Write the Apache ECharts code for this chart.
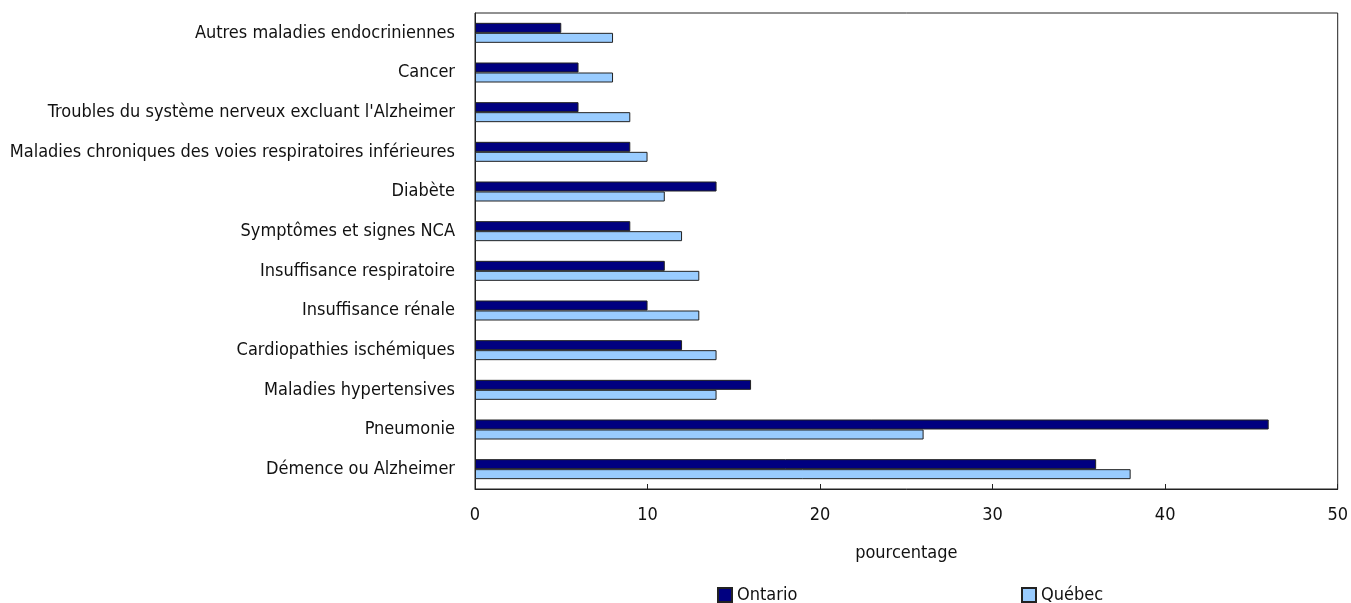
<!DOCTYPE html>
<html><head><meta charset="utf-8">
<script src="https://cdn.jsdelivr.net/npm/echarts@6/dist/echarts.min.js"></script>
<style>html,body{margin:0;padding:0;background:#fff}#c{width:1351px;height:603px}</style>
</head><body><div id="c"></div>
<script>
const categories = ["Démence ou Alzheimer","Pneumonie","Maladies hypertensives","Cardiopathies ischémiques","Insuffisance rénale","Insuffisance respiratoire","Symptômes et signes NCA","Diabète","Maladies chroniques des voies respiratoires inférieures","Troubles du système nerveux excluant l'Alzheimer","Cancer","Autres maladies endocriniennes"];
const ontario = [36,46,16,12,10,11,9,14,9,6,6,5];
const quebec = [38,26,14,14,13,13,12,11,10,9,8,8];
const xTicks = [0,10,20,30,40,50];
const FONT = "'Liberation Sans Narrow','DejaVu Sans Condensed','Arial Narrow',sans-serif";
const TXT = '#111';
const chart = echarts.init(document.getElementById('c'));
chart.setOption({
  animation:false,
  textStyle:{fontFamily:FONT},
  grid:{left:475,right:13,top:13,bottom:114,show:true,borderColor:'#222',borderWidth:1,containLabel:false},
  legend:[
    {data:['Ontario'],left:712,top:581,itemWidth:14,itemHeight:14,itemGap:4,textStyle:{fontFamily:FONT,fontSize:18,color:TXT},icon:'rect'},
    {data:['Québec'],left:1016,top:581,itemWidth:14,itemHeight:14,itemGap:4,textStyle:{fontFamily:FONT,fontSize:18,color:TXT},icon:'rect'}
  ],
  xAxis:{type:'value',min:xTicks[0],max:xTicks[xTicks.length-1],interval:10,
    name:'pourcentage',nameLocation:'middle',nameGap:55,nameTextStyle:{fontFamily:FONT,fontSize:18,color:TXT},
    axisLine:{show:true,lineStyle:{color:'#222'}},
    axisTick:{show:true,inside:true,length:5,lineStyle:{color:'#222'}},
    axisLabel:{fontFamily:FONT,fontSize:18,color:TXT,margin:17},
    splitLine:{show:false}},
  yAxis:{type:'category',data:categories,
    axisLine:{show:true,lineStyle:{color:'#222'}},
    axisTick:{show:false},
    axisLabel:{fontFamily:FONT,fontSize:18,color:TXT,margin:20}},
  series:[
    {name:'Ontario',type:'bar',data:ontario,barWidth:10,barGap:'0%',itemStyle:{color:'#000080',borderColor:'#222',borderWidth:1}},
    {name:'Québec',type:'bar',data:quebec,barWidth:10,barGap:'0%',itemStyle:{color:'#99CCFF',borderColor:'#222',borderWidth:1}}
  ]
});
</script></body></html>
